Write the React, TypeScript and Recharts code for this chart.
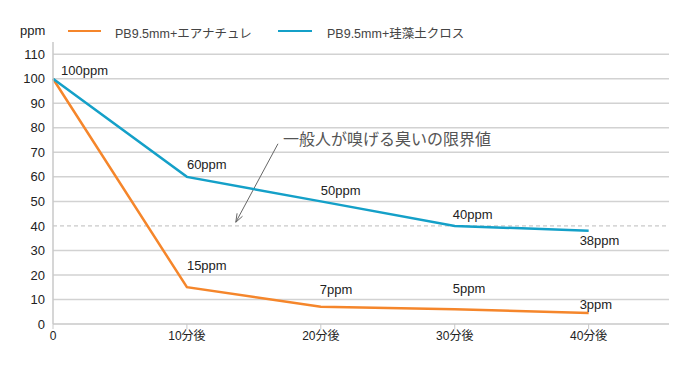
import React from "react";
import {
  LineChart,
  Line,
  XAxis,
  YAxis,
  ReferenceLine,
  LabelList,
} from "recharts";

const minutes = [0, 10, 20, 30, 40];
const airNature = [100, 15, 7, 6, 4.5];
const diatomCloth = [100, 60, 50, 40, 38];
const airNatureLabels = ["", "15ppm", "7ppm", "5ppm", "3ppm"];
const diatomLabels = ["100ppm", "60ppm", "50ppm", "40ppm", "38ppm"];
const yTicks = [0, 10, 20, 30, 40, 50, 60, 70, 80, 90, 100, 110];
const gridValues = [10, 20, 30, 50, 60, 70, 80, 90, 100, 110];
const limitValue = 40;
const limitText = "一般人が嗅げる臭いの限界値";
const seriesNames = ["PB9.5mm+エアナチュレ", "PB9.5mm+珪藻土クロス"];

const ORANGE = "#F5862B";
const BLUE = "#14A0C8";
const FONT = "'Liberation Sans', 'Noto Sans CJK JP', sans-serif";

const data = minutes.map((m, i) => ({
  m,
  a: airNature[i],
  b: diatomCloth[i],
  al: airNatureLabels[i],
  bl: diatomLabels[i],
}));

// label offsets relative to each point
const bOffsets = [
  [8, -8],
  [0, -12],
  [0, -11],
  [-2, -11],
  [-9, 10],
];
const aOffsets = [
  [0, 0],
  [0, -22],
  [-1, -17],
  [-2, -21],
  [-9, -8],
];

const makeLabel = (offsets: number[][]) => (props: any) => {
  const { x, y, value, index } = props;
  if (!value) return null;
  const [dx, dy] = offsets[index];
  return (
    <text
      x={x + dx}
      y={y + dy}
      fontSize={13}
      fill="#222"
      fontFamily={FONT}
      dominantBaseline="central"
    >
      {value}
    </text>
  );
};

const ArrowShape = (props: any) => {
  const { x1, y1, x2, y2 } = props;
  if (x1 == null) return null;
  const ang = Math.atan2(y2 - y1, x2 - x1);
  const len = 9;
  const spread = 0.35;
  const p1 = [x2 - len * Math.cos(ang - spread), y2 - len * Math.sin(ang - spread)];
  const p2 = [x2 - len * Math.cos(ang + spread), y2 - len * Math.sin(ang + spread)];
  return (
    <g>
      <line x1={x1} y1={y1} x2={x2} y2={y2} stroke="#666" strokeWidth={1} />
      <polyline
        points={`${p1[0]},${p1[1]} ${x2},${y2} ${p2[0]},${p2[1]}`}
        fill="none"
        stroke="#666"
        strokeWidth={1}
      />
      <text
        x={x1 + 5}
        y={y1 - 4}
        fontSize={16}
        fill="#555"
        fontFamily={FONT}
        dominantBaseline="central"
      >
        {limitText}
      </text>
    </g>
  );
};

export default function App() {
  return (
    <div style={{ position: "absolute", left: 0, top: 0, width: 690, height: 380, background: "#fff", fontFamily: FONT }}>
      <div style={{ position: "absolute", left: 0, top: 0, width: 690, height: 60, fontSize: 12.5, color: "#222" }}>
        <span style={{ position: "absolute", left: 20, top: 23, fontSize: 13 }}>ppm</span>
        <span style={{ position: "absolute", left: 68, top: 30, width: 33, height: 2, background: ORANGE }} />
        <span style={{ position: "absolute", left: 115, top: 23, color: "#444" }}>{seriesNames[0]}</span>
        <span style={{ position: "absolute", left: 278, top: 30, width: 34, height: 2, background: BLUE }} />
        <span style={{ position: "absolute", left: 327, top: 23, color: "#444" }}>{seriesNames[1]}</span>
      </div>
      <LineChart
        width={690}
        height={380}
        data={data}
        margin={{ top: 42, right: 21, bottom: 26, left: 0 }}
      >
        {gridValues.map((v) => (
          <ReferenceLine key={v} y={v} stroke="#d2d2d2" strokeWidth={1.5} />
        ))}
        <ReferenceLine y={limitValue} stroke="#bbb" strokeDasharray="4 3" strokeWidth={1} />
        <XAxis
          dataKey="m"
          type="number"
          domain={[0, 46]}
          ticks={minutes}
          tickFormatter={(v) => (v === 0 ? "0" : `${v}分後`)}
          axisLine={{ stroke: "#c8c8c8", strokeWidth: 1.5 }}
          tickLine={{ stroke: "#c8c8c8" }}
          tickSize={5}
          tick={{ fontSize: 12, fill: "#222", fontFamily: FONT }}
          height={30}
          interval={0}
        />
        <YAxis
          type="number"
          domain={[0, 115]}
          ticks={yTicks}
          axisLine={{ stroke: "#c8c8c8", strokeWidth: 1.5 }}
          tickLine={false}
          tick={{ fontSize: 13, fill: "#222", fontFamily: FONT }}
          width={53}
          interval={0}
        />
        <ReferenceLine
          segment={[
            { x: 16.8, y: 73.5 },
            { x: 13.65, y: 41.5 },
          ]}
          shape={ArrowShape}
        />
        <Line
          type="linear"
          dataKey="a"
          stroke={ORANGE}
          strokeWidth={2.5}
          dot={false}
          isAnimationActive={false}
        >
          <LabelList dataKey="al" content={makeLabel(aOffsets)} />
        </Line>
        <Line
          type="linear"
          dataKey="b"
          stroke={BLUE}
          strokeWidth={2.5}
          dot={false}
          isAnimationActive={false}
        >
          <LabelList dataKey="bl" content={makeLabel(bOffsets)} />
        </Line>
      </LineChart>
    </div>
  );
}
